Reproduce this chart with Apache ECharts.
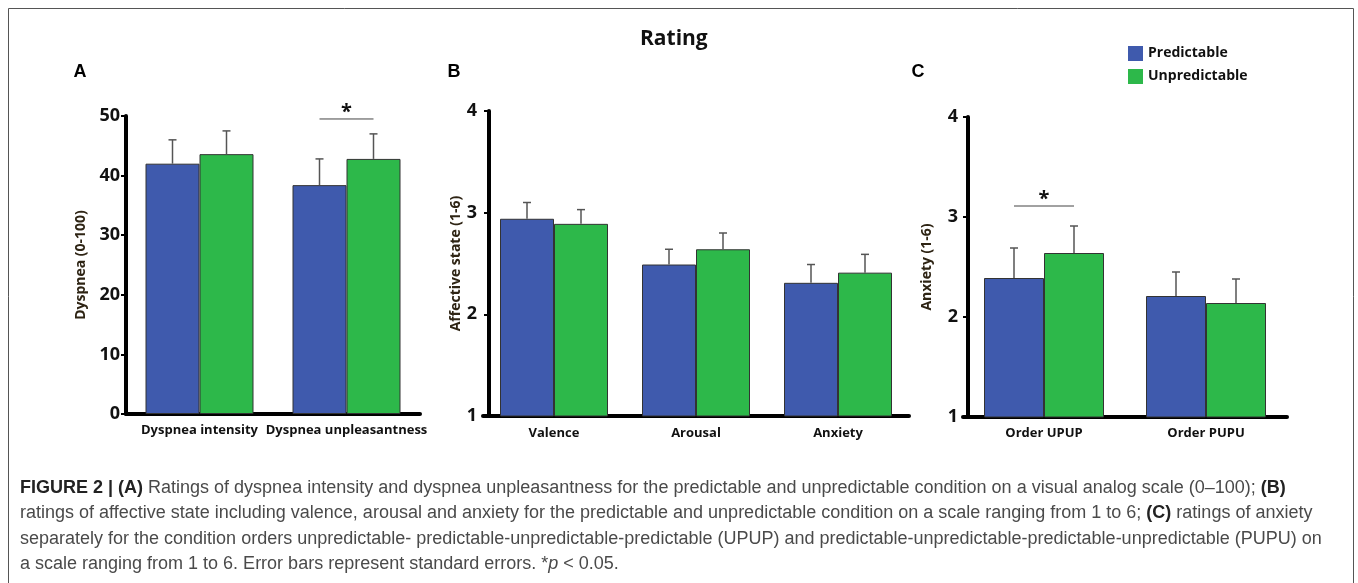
<!DOCTYPE html>
<html><head><meta charset="utf-8">
<script src="https://cdn.jsdelivr.net/npm/echarts@6/dist/echarts.min.js"></script>
<style>html,body{margin:0;padding:0;background:#fff}#c{width:1358px;height:583px}</style>
</head><body><div id="c"></div>
<script>
// ---- data ----
const seriesNames = ['Predictable', 'Unpredictable'];
const catsA = ['Dyspnea intensity', 'Dyspnea unpleasantness'];
const predA = [42.0, 38.4];
const unpredA = [43.6, 42.8];
const predA_se = [4.0, 4.4];
const unpredA_se = [3.9, 4.2];
const catsB = ['Valence', 'Arousal', 'Anxiety'];
const predB = [2.94, 2.49, 2.31];
const unpredB = [2.89, 2.64, 2.41];
const predB_se = [0.16, 0.15, 0.18];
const unpredB_se = [0.14, 0.16, 0.18];
const catsC = ['Order UPUP', 'Order PUPU'];
const predC = [2.39, 2.21];
const unpredC = [2.64, 2.14];
const predC_se = [0.30, 0.24];
const unpredC_se = [0.27, 0.24];
const ticksA = {min: 0, max: 50, interval: 10};
const ticksB = {min: 1, max: 4, interval: 1};
const ticksC = {min: 1, max: 4, interval: 1};
// significance brackets: [category index, bracket value]
const sigA = [[1, 49.5]];
const sigC = [[0, 3.11]];

const BLUE = '#3f5aad', GREEN = '#2db84a';
const FONT = '"Open Sans", sans-serif';
const chart = echarts.init(document.getElementById('c'));

function xAx(gi, cats, lm) {
  return {type: 'category', gridIndex: gi, data: cats,
    axisLine: {lineStyle: {color: '#000', width: 4}},
    axisTick: {show: false},
    axisLabel: {interval: 0, color: '#111', fontFamily: FONT, fontWeight: 'bold', fontSize: 13, margin: lm}};
}
function yAx(gi, t, name, gap, off, lm) {
  return {type: 'value', gridIndex: gi, min: t.min, max: t.max, interval: t.interval, offset: off,
    name: name, nameLocation: 'middle', nameGap: gap,
    nameTextStyle: {color: '#2e2414', fontFamily: FONT, fontWeight: 'bold', fontSize: 14},
    axisLine: {show: true, lineStyle: {color: '#000', width: 4}},
    axisTick: {show: true, length: 5, lineStyle: {color: '#000', width: 2}},
    axisLabel: {color: '#111', fontFamily: FONT, fontWeight: 'bold', fontSize: 18, margin: lm},
    splitLine: {show: false}};
}
function bar(name, gi, data, color, bw) {
  return {type: 'bar', name: name, xAxisIndex: gi, yAxisIndex: gi, data: data, barWidth: bw, barGap: '0%',
    itemStyle: {color: color, borderColor: '#333', borderWidth: 1}, z: 2};
}
function err(gi, means, ses, side, bw) {
  return {type: 'custom', xAxisIndex: gi, yAxisIndex: gi, z: 3, silent: true,
    data: means.map((m, i) => [i, m, m + ses[i]]),
    renderItem: function (params, api) {
      const p0 = api.coord([api.value(0), api.value(1)]);
      const p1 = api.coord([api.value(0), api.value(2)]);
      const x = p0[0] + side * bw / 2;
      const st = {stroke: '#555', lineWidth: 1.5};
      return {type: 'group', children: [
        {type: 'line', shape: {x1: x, y1: p0[1], x2: x, y2: p1[1]}, style: st},
        {type: 'line', shape: {x1: x - 4, y1: p1[1], x2: x + 4, y2: p1[1]}, style: st}
      ]};
    }};
}
function sig(gi, data, bw) {
  return {type: 'custom', xAxisIndex: gi, yAxisIndex: gi, z: 4, silent: true, data: data,
    renderItem: function (params, api) {
      const p = api.coord([api.value(0), api.value(1)]);
      return {type: 'group', children: [
        {type: 'line', shape: {x1: p[0] - bw / 2, y1: p[1], x2: p[0] + bw / 2, y2: p[1]}, style: {stroke: '#444', lineWidth: 1}},
        {type: 'text', x: p[0], y: p[1] + 3, style: {text: '*', fontSize: 20, fontWeight: 'bold', fontFamily: FONT, fill: '#111', align: 'center', verticalAlign: 'bottom'}}
      ]};
    }};
}

const caption = [
  '{b|FIGURE 2 | (A)} Ratings of dyspnea intensity and dyspnea unpleasantness for the predictable and unpredictable condition on a visual analog scale (0–100); {b|(B)}',
  'ratings of affective state including valence, arousal and anxiety for the predictable and unpredictable condition on a scale ranging from 1 to 6; {b|(C)} ratings of anxiety',
  'separately for the condition orders unpredictable- predictable-unpredictable-predictable (UPUP) and predictable-unpredictable-predictable-unpredictable (PUPU) on',
  'a scale ranging from 1 to 6. Error bars represent standard errors. *{i|p} < 0.05.'
];
const capFont = '"Liberation Sans", Arial, sans-serif';

const option = {
  animation: false,
  backgroundColor: '#fff',
  title: {text: 'Rating', left: 635, top: 24,
    textStyle: {fontFamily: FONT, fontWeight: 'bold', fontSize: 21, color: '#111'}},
  legend: {left: 1123, top: 41, orient: 'vertical', itemWidth: 15, itemHeight: 15, itemGap: 8,
    data: seriesNames, icon: 'rect', itemStyle: {borderWidth: 0},
    textStyle: {fontFamily: FONT, fontWeight: 'bold', fontSize: 14, color: '#111'}},
  grid: [
    {left: 126, top: 116, width: 294, height: 298},
    {left: 483, top: 111, width: 426, height: 305},
    {left: 963, top: 117, width: 324, height: 300}
  ],
  xAxis: [xAx(0, catsA, 10), xAx(1, catsB, 11), xAx(2, catsC, 10)],
  yAxis: [
    yAx(0, ticksA, 'Dyspnea (0-100)', 38, 0, 6),
    yAx(1, ticksB, 'Affective state (1-6)', 26, -6, 12),
    yAx(2, ticksC, 'Anxiety (1-6)', 34, -5, 10)
  ],
  series: [
    bar(seriesNames[0], 0, predA, BLUE, 54), bar(seriesNames[1], 0, unpredA, GREEN, 54),
    bar(seriesNames[0], 1, predB, BLUE, 54), bar(seriesNames[1], 1, unpredB, GREEN, 54),
    bar(seriesNames[0], 2, predC, BLUE, 60), bar(seriesNames[1], 2, unpredC, GREEN, 60),
    err(0, predA, predA_se, -1, 54), err(0, unpredA, unpredA_se, 1, 54),
    err(1, predB, predB_se, -1, 54), err(1, unpredB, unpredB_se, 1, 54),
    err(2, predC, predC_se, -1, 60), err(2, unpredC, unpredC_se, 1, 60),
    sig(0, sigA, 54), sig(2, sigC, 60)
  ],
  graphic: [
    {type: 'rect', shape: {x: 8.5, y: 8.5, width: 1345, height: 600}, style: {fill: 'none', stroke: '#555', lineWidth: 1}, silent: true},
    {type: 'text', x: 80, y: 72, style: {text: 'A', font: 'bold 18px Arial, "Liberation Sans", sans-serif', fill: '#000', align: 'center', verticalAlign: 'middle'}},
    {type: 'text', x: 454, y: 72, style: {text: 'B', font: 'bold 18px Arial, "Liberation Sans", sans-serif', fill: '#000', align: 'center', verticalAlign: 'middle'}},
    {type: 'text', x: 918, y: 72, style: {text: 'C', font: 'bold 18px Arial, "Liberation Sans", sans-serif', fill: '#000', align: 'center', verticalAlign: 'middle'}}
  ].concat(caption.map((t, i) => ({
    type: 'text', left: 20, top: 479 + i * 25.3,
    style: {text: t, fontFamily: capFont, fontSize: 18, fill: '#4a4a4a',
      rich: {b: {fontFamily: capFont, fontSize: 18, fontWeight: 'bold', fill: '#222'},
             i: {fontFamily: capFont, fontSize: 18, fontStyle: 'italic', fill: '#4a4a4a'}}}
  })))
};
chart.setOption(option);
</script></body></html>
